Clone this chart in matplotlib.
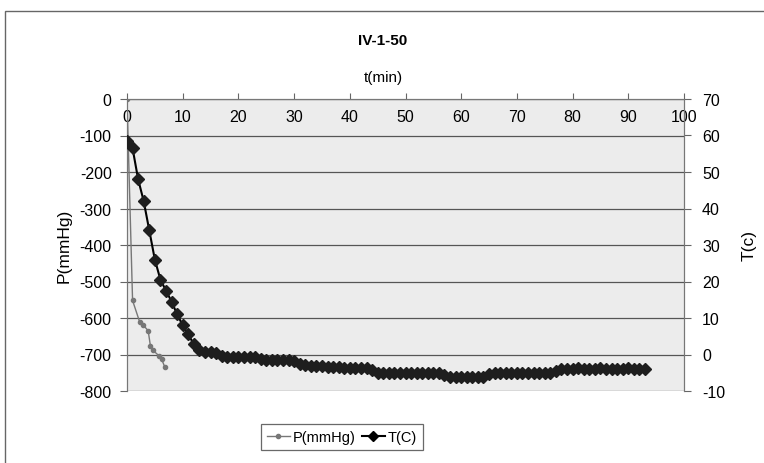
import matplotlib
matplotlib.use("Agg")
import matplotlib.pyplot as plt
from matplotlib.lines import Line2D
from matplotlib.patches import Rectangle

plt.rcParams['font.family'] = ['Liberation Sans', 'DejaVu Sans']

# pressure readings (first few minutes only)
p_time = [0, 1, 2.3, 2.9, 3.8, 4.2, 4.7, 5.7, 6.2, 6.8]
p_mmhg = [0, -552, -612, -619, -635, -676, -689, -703, -712, -735]

# temperature readings, one per minute
t_time = [0, 1, 2, 3, 4, 5, 6, 7, 8, 9, 10, 11, 12, 13, 14, 15, 16, 17, 18, 19,
          20, 21, 22, 23, 24, 25, 26, 27, 28, 29, 30, 31, 32, 33, 34, 35, 36, 37, 38, 39,
          40, 41, 42, 43, 44, 45, 46, 47, 48, 49, 50, 51, 52, 53, 54, 55, 56, 57, 58, 59,
          60, 61, 62, 63, 64, 65, 66, 67, 68, 69, 70, 71, 72, 73, 74, 75, 76, 77, 78, 79,
          80, 81, 82, 83, 84, 85, 86, 87, 88, 89, 90, 91, 92, 93]
t_c = [58.5, 56.5, 48, 42, 34, 26, 20.5, 17.5, 14.5, 11, 8, 5.5, 2.8, 1.2, 0.7, 0.6, 0.4, -0.4, -0.6, -0.6,
       -0.6, -0.7, -0.6, -0.6, -1.2, -1.6, -1.6, -1.6, -1.5, -1.6, -1.7, -2.6, -3.0, -3.1, -3.1, -3.2, -3.3, -3.5, -3.5, -3.6,
       -3.6, -3.7, -3.7, -3.7, -4.3, -5.0, -5.1, -5.1, -5.0, -5.1, -5.1, -5.0, -5.1, -5.1, -5.2, -5.1, -5.1, -5.7, -6.1, -6.2,
       -6.2, -6.1, -6.2, -6.2, -6.1, -5.3, -5.1, -5.1, -5.0, -5.1, -5.1, -5.1, -5.0, -5.1, -5.1, -5.0, -5.0, -4.4, -3.9, -3.9,
       -3.9, -3.8, -3.9, -3.9, -3.9, -3.8, -3.9, -3.9, -3.9, -3.9, -3.8, -3.9, -3.9, -3.9]

p_ticks = [0, -100, -200, -300, -400, -500, -600, -700, -800]
t_ticks = [70, 60, 50, 40, 30, 20, 10, 0, -10]
x_ticks = [0, 10, 20, 30, 40, 50, 60, 70, 80, 90, 100]

fig = plt.figure(figsize=(7.64, 4.64), dpi=100)
fig.patch.set_facecolor('white')
ax = fig.add_axes([127/764, 1-392/464, (684-127)/764, (392-100)/464])
ax.set_facecolor('#ececec')
ax2 = ax.twinx()

# chart border (left + top visible in the crop)
fig.patches.append(Rectangle((5/764, -0.1), 1.2, 1-12/464+0.1, transform=fig.transFigure,
                             fill=False, edgecolor='#666666', linewidth=1.0))

ax.plot(p_time, p_mmhg, color='#777777', linewidth=1.0, marker='o', markersize=3,
        markerfacecolor='#777777', markeredgecolor='#777777', zorder=3)
ax2.plot(t_time, t_c, color='black', linewidth=1.5, marker='D', markersize=6,
         markerfacecolor='#1e1e1e', markeredgecolor='#1e1e1e', zorder=4)

ax.set_xlim(0, 100)
ax.set_ylim(-800, 0)
ax2.set_ylim(-10, 70)

ax.set_yticks(p_ticks)
ax.set_yticklabels([str(v) for v in p_ticks], fontsize=11.5)
ax2.set_yticks(t_ticks)
ax2.set_yticklabels([str(v) for v in t_ticks], fontsize=11.5)
ax.set_xticks(x_ticks)
ax.set_xticklabels([str(v) for v in x_ticks], fontsize=11.5)

ax.grid(axis='y', color='#555555', linewidth=0.9)
ax.set_axisbelow(True)

ax.tick_params(axis='x', top=True, bottom=False, labeltop=True, labelbottom=False,
               direction='out', length=4, pad=-22, color='#666666')
ax.tick_params(axis='y', direction='out', length=5, color='#666666', pad=6)
ax2.tick_params(axis='y', direction='out', length=5, color='#666666', pad=8)

for a in (ax, ax2):
    for s in a.spines.values():
        s.set_color('#777777')
    a.spines['bottom'].set_visible(False)

ax.set_ylabel('P(mmHg)', fontsize=12.5, labelpad=6)
ax2.set_ylabel('T(c)', fontsize=12.5, labelpad=12)

fig.text(383/764, 1-41/464, 'IV-1-50', ha='center', va='center', fontsize=11, fontweight='bold')
fig.text(383/764, 1-78/464, 't(min)', ha='center', va='center', fontsize=11)

handles = [Line2D([], [], color='#777777', linewidth=1.0, marker='o', markersize=3),
           Line2D([], [], color='black', linewidth=1.5, marker='D', markersize=5)]
leg = fig.legend(handles, ['P(mmHg)', 'T(C)'], loc='center', ncol=2,
                 bbox_to_anchor=(342/764, 1-438/464), fontsize=10.5, frameon=True,
                 fancybox=False, edgecolor='#444444', handlelength=1.6,
                 columnspacing=0.4, handletextpad=0.2, borderpad=0.4, borderaxespad=0)
leg.get_frame().set_linewidth(0.9)

fig.savefig('out.png', dpi=100)
